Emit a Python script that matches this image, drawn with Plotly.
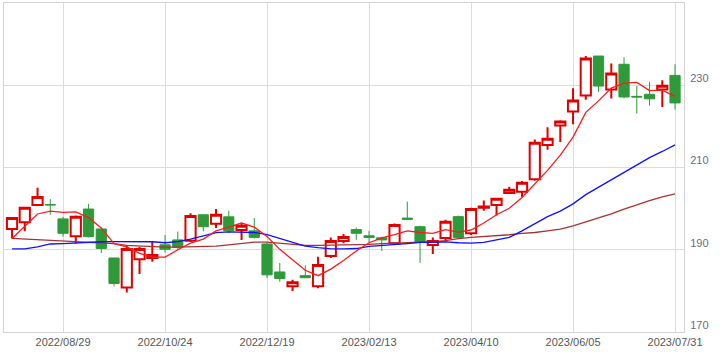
import pandas as pd
import plotly.graph_objects as go

# Weekly candles, 2022/08/01 .. 2023/07/31
dates = pd.date_range("2022-08-01", periods=53, freq="7D")

opens = [195.05, 196.7, 200.9, 201.0, 197.5, 193.3, 199.9, 195.05, 188.0, 180.8,
         187.7, 188.0, 191.2, 192.4, 192.2, 198.5, 196.3, 198.0, 194.8, 194.6,
         191.4, 184.6, 181.15, 183.7, 181.15, 188.5, 192.1, 194.9, 193.4, 192.9,
         191.6, 197.7, 195.6, 191.15, 192.85, 198.05, 194.0, 200.2, 200.9, 203.8,
         204.1, 207.15, 215.5, 220.2, 223.6, 227.5, 237.1, 228.95, 235.1, 227.3,
         227.8, 228.95, 232.4]
highs = [197.7, 200.2, 205.05, 202.3, 198.0, 198.3, 201.15, 195.3, 188.0, 191.0,
         190.7, 192.0, 193.6, 194.4, 198.9, 198.6, 199.9, 199.5, 196.3, 197.7,
         191.8, 186.8, 182.7, 186.2, 188.3, 193.0, 193.8, 195.4, 194.6, 193.2,
         196.4, 201.7, 195.85, 193.0, 197.3, 198.3, 200.2, 201.95, 202.6, 205.3,
         206.7, 216.8, 219.8, 221.5, 229.3, 237.1, 237.1, 235.3, 236.8, 229.8,
         230.8, 231.2, 235.1]
lows = [192.75, 194.5, 200.9, 198.5, 193.2, 191.5, 193.0, 189.2, 181.1, 179.6,
        184.1, 187.1, 189.3, 190.0, 191.9, 194.5, 195.3, 194.1, 192.4, 192.75,
        183.1, 182.2, 180.0, 183.1, 180.65, 188.0, 191.6, 192.4, 191.8, 189.7,
        191.4, 197.2, 186.8, 188.95, 192.0, 192.6, 193.6, 199.5, 198.3, 203.6,
        202.8, 206.8, 214.3, 216.2, 220.5, 226.5, 228.4, 226.8, 226.8, 223.1,
        225.05, 224.7, 224.1]
closes = [197.7, 200.2, 202.85, 200.9, 194.0, 198.0, 193.2, 190.3, 181.8, 190.2,
          190.2, 188.7, 190.1, 190.6, 198.2, 195.6, 198.5, 194.6, 195.85, 193.0,
          183.9, 183.0, 182.1, 183.2, 186.3, 192.1, 193.1, 194.0, 193.0, 192.4,
          196.0, 197.4, 191.95, 192.1, 196.8, 193.0, 199.9, 200.5, 202.4, 204.6,
          206.3, 216.0, 217.0, 221.2, 226.3, 236.5, 229.8, 232.85, 227.15, 227.15,
          226.7, 229.9, 225.7]

# Moving-average lines
ma_short = [192.75, 195.8, 198.7, 199.4, 199.1, 199.2, 197.8, 195.3, 191.5, 190.7,
            189.1, 188.2, 188.2, 190.0, 191.6, 192.6, 194.6, 195.5, 196.5, 195.5,
            193.2, 190.1, 187.6, 185.0, 183.7, 185.3, 187.4, 189.7, 191.7, 192.9,
            193.7, 194.6, 194.2, 194.0, 194.9, 194.3, 194.8, 196.5, 198.5, 200.1,
            202.7, 206.0, 209.3, 213.0, 217.4, 223.4, 226.2, 229.3, 230.5, 230.7,
            228.7, 228.8, 227.3]
ma_mid = [190.2, 190.2, 190.7, 191.4, 191.5, 191.7, 191.9, 191.95, 192.0, 192.0,
          192.0, 191.95, 191.7, 192.0, 192.6, 193.4, 194.15, 194.35, 194.3, 194.2,
          193.7, 192.8, 191.8, 190.9, 190.5, 190.2, 190.2, 190.3, 190.8, 191.0,
          191.2, 191.5, 191.8, 191.9, 191.9, 191.7, 191.6, 191.8, 192.4, 193.0,
          194.6, 196.4, 198.05, 199.4, 201.15, 203.4, 205.2, 207.0, 208.7, 210.7,
          212.4, 213.9, 215.5]
ma_long = [192.75, 192.6, 192.5, 192.4, 192.2, 192.1, 191.95, 191.8, 191.5, 191.05,
           190.9, 190.7, 190.65, 190.65, 190.7, 190.7, 190.9, 191.2, 191.6, 191.85,
           191.85, 191.55, 191.2, 191.05, 191.05, 191.1, 191.15, 191.2, 191.3, 191.5,
           191.6, 191.8, 191.9, 191.95, 192.2, 192.7, 193.0, 193.2, 193.4, 193.65,
           194.0, 194.2, 194.6, 195.0, 195.8, 196.8, 197.7, 198.7, 199.9, 201.0,
           201.95, 202.85, 203.6]

x_ticks = ["2022-08-29", "2022-10-24", "2022-12-19", "2023-02-13",
           "2023-04-10", "2023-06-05", "2023-07-31"]
y_ticks = [170, 190, 210, 230, 250]
y_tick_text = ["170", "190", "210", "230", ""]

RED = "#e00000"
GREEN = "#2e9a3a"

fig = go.Figure()
fig.add_trace(go.Candlestick(
    x=dates, open=opens, high=highs, low=lows, close=closes,
    increasing=dict(line=dict(color=RED, width=2), fillcolor="white"),
    decreasing=dict(line=dict(color=GREEN, width=1), fillcolor=GREEN),
    whiskerwidth=0, hoverinfo="skip", showlegend=False,
))
fig.add_trace(go.Scatter(x=dates, y=ma_long, mode="lines",
                         line=dict(color="#a83232", width=1.3), showlegend=False,
                         hoverinfo="skip"))
fig.add_trace(go.Scatter(x=dates, y=ma_mid, mode="lines",
                         line=dict(color="#1010ff", width=1.3), showlegend=False,
                         hoverinfo="skip"))
fig.add_trace(go.Scatter(x=dates, y=ma_short, mode="lines",
                         line=dict(color="#ff1a1a", width=1.3), showlegend=False,
                         hoverinfo="skip"))

fig.update_layout(
    width=720, height=352,
    margin=dict(l=4, r=36, t=3, b=20),
    paper_bgcolor="white", plot_bgcolor="white",
    font=dict(family="Liberation Sans, Arial, sans-serif", size=11, color="#555555"),
    boxgap=0.2, boxgroupgap=0,
    hovermode=False,
    xaxis=dict(
        type="date",
        range=["2022-07-27 14:00", "2023-08-04 22:00"],
        tickvals=x_ticks, tickformat="%Y/%m/%d",
        showgrid=True, gridcolor="#dcdcdc", gridwidth=1,
        showline=True, mirror=True, linecolor="#d4d4d4", linewidth=1,
        ticks="", rangeslider=dict(visible=False),
        tickfont=dict(size=11, color="#555555"),
        zeroline=False,
    ),
    yaxis=dict(
        side="right",
        range=[170, 250],
        tickvals=y_ticks, ticktext=y_tick_text,
        showgrid=True, gridcolor="#dcdcdc", gridwidth=1,
        showline=True, mirror=True, linecolor="#d4d4d4", linewidth=1,
        ticks="", ticklabelshift=-7, ticklabelstandoff=3,
        tickfont=dict(size=11, color="#6a6a82"),
        zeroline=False,
    ),
)

fig.write_html("out.html")
